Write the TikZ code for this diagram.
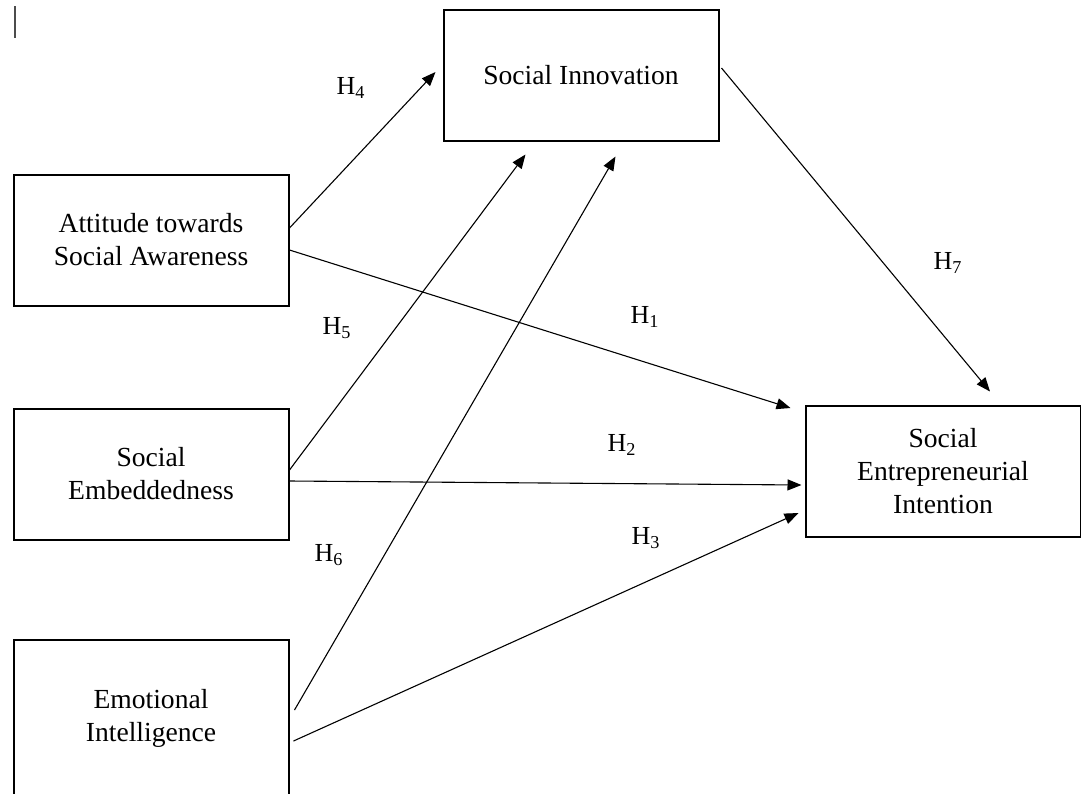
\documentclass[tikz,border=0pt]{standalone}
\usepackage{fontspec}
\setmainfont{Liberation Serif}
\usetikzlibrary{arrows.meta,calc}

\begin{document}
\begin{tikzpicture}[x=0.5pt,y=-0.5pt,
    box/.style={draw,line width=1pt,align=center,inner sep=0pt,
      minimum width=137.5pt,minimum height=65.5pt,
      font=\fontsize{13.8}{16.5}\selectfont},
    hyp/.style={inner sep=0pt,font=\fontsize{13}{15}\selectfont},
    link/.style={-{Triangle[length=7pt,width=5.5pt]},line width=0.55pt}]
  \useasboundingbox (0,0) rectangle (1081,793);
  \draw[line width=1pt,black!70] (15,6) -- (15,38);
  % constructs
  \node[box] (si) at (581,75) {Social Innovation};
  \node[box] (att) at (151,240) {Attitude towards\\Social Awareness};
  \node[box] (emb) at (151,474) {Social\\Embeddedness};
  \node[box,minimum height=78pt] (emo) at (151,718) {Emotional\\Intelligence};
  \node[box] (sei) at (943,471) {Social\\Entrepreneurial\\Intention};
  % hypotheses
  \draw[link] ($(att.east)+(0,-12)$) -- ($(si.west)+(-7,-3)$);
  \draw[link] ($(att.east)+(0,10)$) -- ($(sei.west)+(-14,-63)$);
  \draw[link] ($(emb.east)+(0,-4)$) -- ($(si.south west)+(83,13)$);
  \draw[link] ($(emb.east)+(0,7)$) -- ($(sei.west)+(-3,14)$);
  \draw[link] ($(emo.east)+(5,-8)$) -- ($(si.south west)+(173,15)$);
  \draw[link] ($(emo.east)+(4,23)$) -- ($(sei.west)+(-6,42)$);
  \draw[link] ($(si.east)+(2,-7)$) -- ($(sei.north)+(47,-13)$);
  \node[hyp] (h1) at (645,317) {H\textsubscript{1}};
  \node[hyp] (h2) at (622,445) {H\textsubscript{2}};
  \node[hyp] (h3) at (646,538) {H\textsubscript{3}};
  \node[hyp] (h4) at (351,88) {H\textsubscript{4}};
  \node[hyp] (h5) at (337,328) {H\textsubscript{5}};
  \node[hyp] (h6) at (329,555) {H\textsubscript{6}};
  \node[hyp] (h7) at (948,263) {H\textsubscript{7}};
\end{tikzpicture}
\end{document}
